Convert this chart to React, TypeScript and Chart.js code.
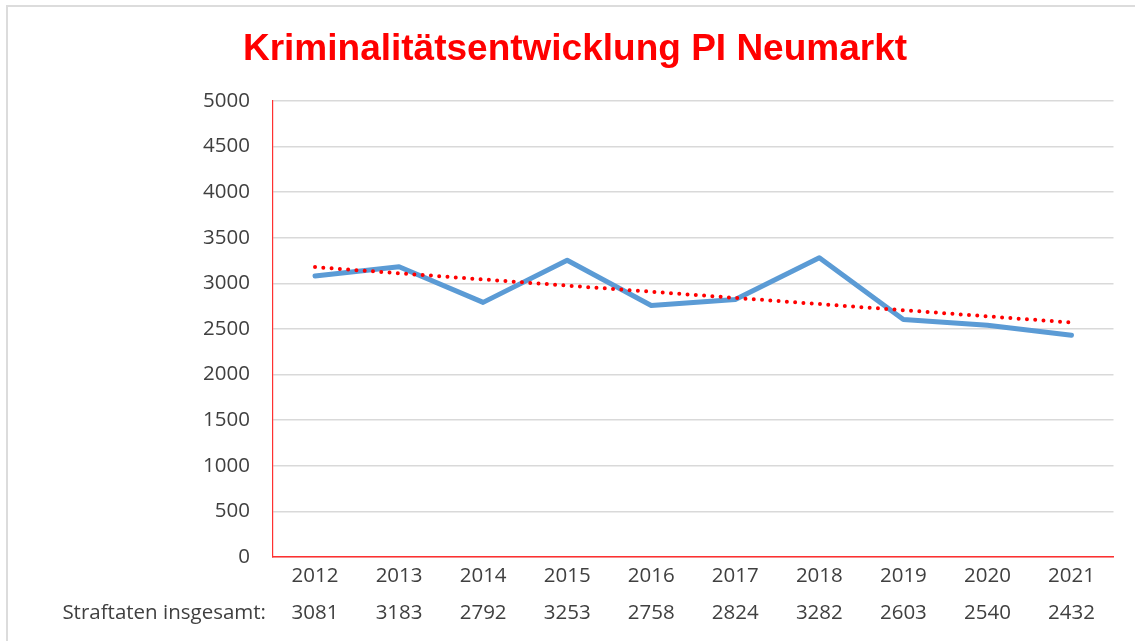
import React, { useEffect, useRef } from "react";
import { Chart, registerables } from "chart.js";

Chart.register(...registerables);

const title = "Kriminalitätsentwicklung PI Neumarkt";
const rowLabel = "Straftaten insgesamt:";
const years = ["2012", "2013", "2014", "2015", "2016", "2017", "2018", "2019", "2020", "2021"];
const offences = [3081, 3183, 2792, 3253, 2758, 2824, 3282, 2603, 2540, 2432];
const yTicks = [0, 500, 1000, 1500, 2000, 2500, 3000, 3500, 4000, 4500, 5000];

// linear trend (least squares), as the spreadsheet's trendline
function linearTrend(vals: number[]): number[] {
  const n = vals.length;
  const mx = (n - 1) / 2;
  const my = vals.reduce((a, b) => a + b, 0) / n;
  let sxy = 0;
  let sxx = 0;
  vals.forEach((v, i) => {
    sxy += (i - mx) * (v - my);
    sxx += (i - mx) * (i - mx);
  });
  const slope = sxy / sxx;
  return vals.map((_, i) => my + slope * (i - mx));
}

const TICK_FONT = { family: "'Open Sans', 'Noto Sans', sans-serif", size: 20.5, lineHeight: 1.84 };
const TICK_COLOR = "#404040";

export default function App() {
  const ref = useRef<HTMLCanvasElement>(null);

  useEffect(() => {
    if (!ref.current) return;
    const titlePlugin = {
      id: "customTitle",
      afterDraw(chart: any) {
        const ctx = chart.ctx;
        ctx.save();
        ctx.font = "bold 37px 'Liberation Sans', Arial, sans-serif";
        ctx.fillStyle = "#FF0000";
        ctx.textAlign = "center";
        ctx.textBaseline = "alphabetic";
        ctx.fillText(title, chart.width / 2, 55);
        // row label of the data table
        const xs = chart.scales.x;
        const lh = TICK_FONT.size * TICK_FONT.lineHeight;
        ctx.font = `${TICK_FONT.size}px ${TICK_FONT.family}`;
        ctx.fillStyle = TICK_COLOR;
        ctx.textAlign = "right";
        ctx.textBaseline = "middle";
        ctx.fillText(rowLabel, chart.chartArea.left - 7, xs.top + lh * 1.5);
        ctx.restore();
      },
    };

    const chart = new Chart(ref.current, {
      type: "line",
      data: {
        labels: years.map((y, i) => [y, String(offences[i])]),
        datasets: [
          {
            label: "Trend",
            data: linearTrend(offences),
            borderColor: "#FF0000",
            borderWidth: 4,
            borderDash: [0, 8.3],
            borderCapStyle: "round",
            pointRadius: 0,
            fill: false,
            order: 0,
          },
          {
            label: rowLabel,
            data: offences,
            borderColor: "#5B9BD5",
            borderWidth: 5,
            borderCapStyle: "round",
            borderJoinStyle: "round",
            pointRadius: 0,
            tension: 0,
            fill: false,
            order: 1,
          },
        ],
      },
      options: {
        animation: false,
        responsive: false,
        maintainAspectRatio: false,
        layout: { padding: { left: 0, right: 29.5, top: 96, bottom: 0 } },
        plugins: {
          legend: { display: false },
          title: { display: false },
          tooltip: { enabled: false },
        },
        scales: {
          x: {
            offset: true,
            grid: { display: false, drawTicks: false, offset: true },
            border: { display: true, color: "#FF3030", width: 1.5 },
            ticks: {
              color: TICK_COLOR,
              font: TICK_FONT,
              padding: 0,
              maxRotation: 0,
              autoSkip: false,
            },
            afterFit(scale: any) {
              scale.height = 84;
            },
          },
          y: {
            min: 0,
            max: 5000,
            afterBuildTicks(scale: any) {
              scale.ticks = yTicks.map((v) => ({ value: v }));
            },
            grid: { color: "#D9D9D9", lineWidth: 1.5, drawTicks: false },
            border: { display: true, color: "#FF3030", width: 1.2 },
            ticks: {
              color: TICK_COLOR,
              font: { family: TICK_FONT.family, size: TICK_FONT.size },
              padding: 23,
              callback: (v: any) => String(v),
            },
            afterFit(scale: any) {
              scale.width = 266;
            },
          },
        },
      },
      plugins: [titlePlugin],
    } as any);
    return () => chart.destroy();
  }, []);

  return (
    <div style={{ position: "fixed", left: 0, top: 0, width: 1135, height: 641, background: "#fff", overflow: "hidden" }}>
      <div
        style={{
          position: "absolute",
          left: 6,
          top: 5,
          width: 1160,
          height: 660,
          border: "2px solid #DCDCDC",
          boxSizing: "border-box",
        }}
      />
      <canvas
        ref={ref}
        width={1136}
        height={636}
        style={{ position: "absolute", left: 7, top: 5, width: 1136, height: 636 }}
      />
    </div>
  );
}
